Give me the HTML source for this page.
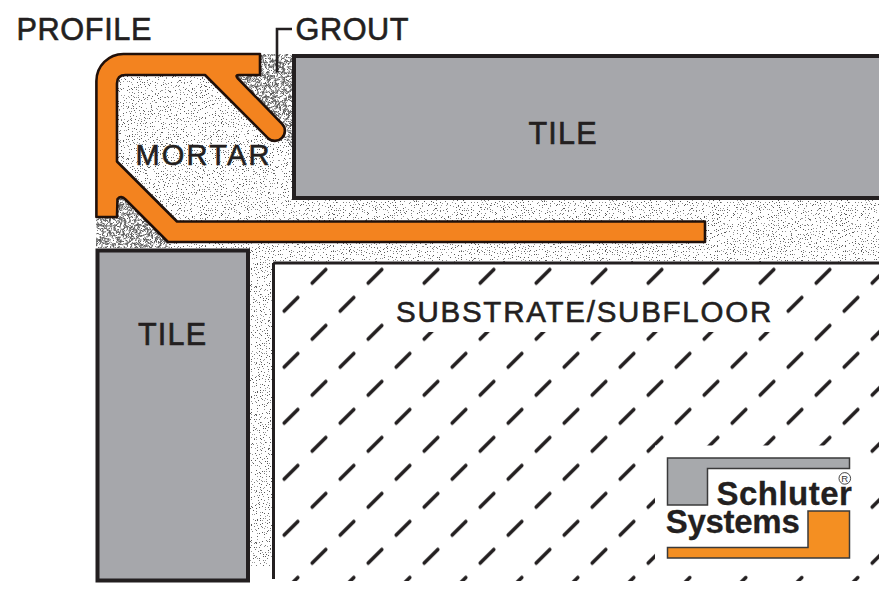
<!DOCTYPE html>
<html><head><meta charset="utf-8"><style>html,body{margin:0;padding:0;background:#fff;overflow:hidden}svg{display:block}</style></head>
<body><svg width="885" height="589" viewBox="0 0 885 589">
<defs><pattern id="dots" width="128" height="128" patternUnits="userSpaceOnUse"><path fill="#5a5a5a" d="M0 1h1v1h-1zM1 7h1v1h-1zM1 8h1v1h-1zM0 11h1v1h-1zM2 16h1v1h-1zM1 24h1v1h-1zM0 31h1v1h-1zM1 66h1v1h-1zM1 74h1v1h-1zM0 86h1v1h-1zM0 107h1v1h-1zM2 113h1v1h-1zM0 124h1v1h-1zM4 6h1v1h-1zM4 8h1v1h-1zM4 12h1v1h-1zM3 21h1v1h-1zM4 38h1v1h-1zM4 41h1v1h-1zM3 46h1v1h-1zM4 54h1v1h-1zM4 73h1v1h-1zM3 88h1v1h-1zM4 89h1v1h-1zM3 95h1v1h-1zM3 99h1v1h-1zM4 103h1v1h-1zM3 120h1v1h-1zM3 123h1v1h-1zM6 0h1v1h-1zM6 11h1v1h-1zM6 20h1v1h-1zM6 29h1v1h-1zM7 42h1v1h-1zM7 44h1v1h-1zM7 53h1v1h-1zM5 55h1v1h-1zM5 66h1v1h-1zM5 79h1v1h-1zM6 87h1v1h-1zM5 100h1v1h-1zM5 106h1v1h-1zM6 110h1v1h-1zM5 115h1v1h-1zM7 119h1v1h-1zM8 1h1v1h-1zM8 22h1v1h-1zM10 42h1v1h-1zM9 44h1v1h-1zM9 58h1v1h-1zM10 72h1v1h-1zM9 77h1v1h-1zM9 82h1v1h-1zM10 101h1v1h-1zM8 108h1v1h-1zM12 1h1v1h-1zM11 11h1v1h-1zM11 19h1v1h-1zM12 38h1v1h-1zM12 43h1v1h-1zM12 65h1v1h-1zM11 74h1v1h-1zM11 77h1v1h-1zM11 79h1v1h-1zM12 84h1v1h-1zM12 113h1v1h-1zM12 123h1v1h-1zM13 10h1v1h-1zM15 13h1v1h-1zM14 25h1v1h-1zM13 29h1v1h-1zM14 36h1v1h-1zM14 58h1v1h-1zM13 64h1v1h-1zM15 70h1v1h-1zM14 82h1v1h-1zM13 92h1v1h-1zM15 94h1v1h-1zM15 97h1v1h-1zM13 100h1v1h-1zM13 107h1v1h-1zM15 110h1v1h-1zM13 121h1v1h-1zM16 1h1v1h-1zM17 4h1v1h-1zM17 6h1v1h-1zM17 21h1v1h-1zM16 24h1v1h-1zM17 27h1v1h-1zM16 34h1v1h-1zM16 41h1v1h-1zM17 45h1v1h-1zM17 50h1v1h-1zM16 73h1v1h-1zM16 82h1v1h-1zM17 86h1v1h-1zM16 111h1v1h-1zM16 117h1v1h-1zM19 4h1v1h-1zM20 39h1v1h-1zM18 45h1v1h-1zM19 50h1v1h-1zM18 76h1v1h-1zM19 80h1v1h-1zM19 97h1v1h-1zM20 114h1v1h-1zM18 122h1v1h-1zM22 9h1v1h-1zM22 19h1v1h-1zM21 21h1v1h-1zM21 23h1v1h-1zM22 26h1v1h-1zM21 39h1v1h-1zM21 54h1v1h-1zM22 69h1v1h-1zM22 71h1v1h-1zM22 83h1v1h-1zM21 85h1v1h-1zM23 107h1v1h-1zM22 111h1v1h-1zM21 118h1v1h-1zM22 126h1v1h-1zM24 8h1v1h-1zM25 12h1v1h-1zM24 22h1v1h-1zM25 24h1v1h-1zM25 59h1v1h-1zM24 96h1v1h-1zM24 110h1v1h-1zM24 114h1v1h-1zM24 122h1v1h-1zM24 126h1v1h-1zM26 6h1v1h-1zM26 14h1v1h-1zM26 23h1v1h-1zM28 30h1v1h-1zM27 38h1v1h-1zM28 45h1v1h-1zM26 58h1v1h-1zM28 61h1v1h-1zM27 64h1v1h-1zM27 82h1v1h-1zM26 100h1v1h-1zM26 113h1v1h-1zM29 2h1v1h-1zM30 18h1v1h-1zM30 24h1v1h-1zM30 37h1v1h-1zM30 45h1v1h-1zM30 48h1v1h-1zM30 57h1v1h-1zM29 64h1v1h-1zM30 73h1v1h-1zM30 93h1v1h-1zM29 95h1v1h-1zM30 98h1v1h-1zM30 106h1v1h-1zM30 113h1v1h-1zM33 4h1v1h-1zM32 8h1v1h-1zM32 14h1v1h-1zM33 16h1v1h-1zM32 22h1v1h-1zM31 34h1v1h-1zM33 43h1v1h-1zM33 48h1v1h-1zM32 63h1v1h-1zM31 69h1v1h-1zM32 73h1v1h-1zM32 76h1v1h-1zM33 85h1v1h-1zM32 97h1v1h-1zM32 99h1v1h-1zM32 117h1v1h-1zM33 123h1v1h-1zM34 0h1v1h-1zM34 4h1v1h-1zM35 18h1v1h-1zM35 46h1v1h-1zM35 53h1v1h-1zM36 57h1v1h-1zM36 66h1v1h-1zM34 76h1v1h-1zM35 84h1v1h-1zM35 101h1v1h-1zM34 126h1v1h-1zM38 9h1v1h-1zM38 15h1v1h-1zM37 109h1v1h-1zM40 9h1v1h-1zM40 20h1v1h-1zM39 27h1v1h-1zM39 31h1v1h-1zM39 46h1v1h-1zM41 52h1v1h-1zM40 55h1v1h-1zM39 58h1v1h-1zM39 66h1v1h-1zM41 69h1v1h-1zM40 71h1v1h-1zM40 73h1v1h-1zM41 91h1v1h-1zM40 107h1v1h-1zM39 111h1v1h-1zM41 116h1v1h-1zM41 124h1v1h-1zM43 13h1v1h-1zM42 16h1v1h-1zM43 38h1v1h-1zM42 58h1v1h-1zM44 77h1v1h-1zM43 82h1v1h-1zM43 101h1v1h-1zM42 109h1v1h-1zM43 119h1v1h-1zM43 123h1v1h-1zM45 6h1v1h-1zM46 8h1v1h-1zM45 17h1v1h-1zM46 20h1v1h-1zM44 35h1v1h-1zM44 68h1v1h-1zM46 70h1v1h-1zM45 76h1v1h-1zM44 96h1v1h-1zM45 127h1v1h-1zM48 6h1v1h-1zM49 11h1v1h-1zM48 14h1v1h-1zM47 17h1v1h-1zM48 27h1v1h-1zM47 40h1v1h-1zM47 47h1v1h-1zM48 69h1v1h-1zM47 73h1v1h-1zM47 90h1v1h-1zM48 115h1v1h-1zM49 127h1v1h-1zM50 8h1v1h-1zM51 42h1v1h-1zM50 60h1v1h-1zM49 74h1v1h-1zM51 80h1v1h-1zM53 1h1v1h-1zM52 6h1v1h-1zM53 33h1v1h-1zM52 46h1v1h-1zM54 56h1v1h-1zM53 61h1v1h-1zM54 69h1v1h-1zM52 75h1v1h-1zM52 80h1v1h-1zM52 98h1v1h-1zM54 103h1v1h-1zM54 106h1v1h-1zM52 109h1v1h-1zM52 113h1v1h-1zM55 1h1v1h-1zM55 3h1v1h-1zM56 12h1v1h-1zM55 14h1v1h-1zM55 66h1v1h-1zM56 74h1v1h-1zM56 107h1v1h-1zM56 111h1v1h-1zM55 118h1v1h-1zM57 124h1v1h-1zM58 7h1v1h-1zM59 8h1v1h-1zM58 16h1v1h-1zM58 32h1v1h-1zM58 35h1v1h-1zM58 51h1v1h-1zM58 61h1v1h-1zM57 89h1v1h-1zM58 100h1v1h-1zM58 113h1v1h-1zM58 126h1v1h-1zM60 27h1v1h-1zM62 32h1v1h-1zM61 40h1v1h-1zM61 44h1v1h-1zM61 57h1v1h-1zM60 65h1v1h-1zM61 69h1v1h-1zM60 71h1v1h-1zM62 81h1v1h-1zM60 90h1v1h-1zM62 103h1v1h-1zM60 121h1v1h-1zM63 7h1v1h-1zM64 16h1v1h-1zM64 56h1v1h-1zM63 64h1v1h-1zM63 83h1v1h-1zM64 88h1v1h-1zM64 89h1v1h-1zM63 92h1v1h-1zM64 102h1v1h-1zM66 1h1v1h-1zM66 11h1v1h-1zM67 30h1v1h-1zM65 35h1v1h-1zM66 49h1v1h-1zM66 102h1v1h-1zM65 113h1v1h-1zM67 120h1v1h-1zM69 14h1v1h-1zM68 17h1v1h-1zM68 35h1v1h-1zM69 51h1v1h-1zM68 64h1v1h-1zM68 92h1v1h-1zM68 95h1v1h-1zM68 97h1v1h-1zM68 102h1v1h-1zM70 105h1v1h-1zM69 112h1v1h-1zM70 126h1v1h-1zM72 4h1v1h-1zM71 19h1v1h-1zM72 33h1v1h-1zM72 35h1v1h-1zM72 40h1v1h-1zM70 45h1v1h-1zM71 48h1v1h-1zM72 49h1v1h-1zM71 62h1v1h-1zM72 79h1v1h-1zM72 87h1v1h-1zM72 97h1v1h-1zM72 109h1v1h-1zM71 119h1v1h-1zM73 19h1v1h-1zM74 31h1v1h-1zM75 42h1v1h-1zM74 49h1v1h-1zM74 53h1v1h-1zM73 66h1v1h-1zM73 72h1v1h-1zM74 77h1v1h-1zM75 81h1v1h-1zM73 86h1v1h-1zM73 92h1v1h-1zM74 95h1v1h-1zM74 97h1v1h-1zM74 108h1v1h-1zM74 117h1v1h-1zM75 123h1v1h-1zM74 127h1v1h-1zM77 1h1v1h-1zM77 3h1v1h-1zM76 11h1v1h-1zM77 19h1v1h-1zM77 21h1v1h-1zM77 30h1v1h-1zM77 32h1v1h-1zM77 58h1v1h-1zM76 63h1v1h-1zM76 68h1v1h-1zM78 77h1v1h-1zM78 82h1v1h-1zM76 85h1v1h-1zM77 86h1v1h-1zM77 91h1v1h-1zM76 95h1v1h-1zM76 101h1v1h-1zM77 107h1v1h-1zM77 113h1v1h-1zM77 118h1v1h-1zM77 123h1v1h-1zM79 47h1v1h-1zM79 72h1v1h-1zM80 74h1v1h-1zM78 86h1v1h-1zM79 89h1v1h-1zM80 93h1v1h-1zM78 94h1v1h-1zM78 102h1v1h-1zM78 106h1v1h-1zM82 9h1v1h-1zM82 23h1v1h-1zM81 46h1v1h-1zM81 50h1v1h-1zM81 87h1v1h-1zM81 105h1v1h-1zM85 6h1v1h-1zM83 8h1v1h-1zM83 15h1v1h-1zM84 25h1v1h-1zM85 30h1v1h-1zM83 36h1v1h-1zM84 45h1v1h-1zM85 49h1v1h-1zM84 67h1v1h-1zM83 71h1v1h-1zM84 104h1v1h-1zM85 104h1v1h-1zM84 114h1v1h-1zM85 125h1v1h-1zM87 1h1v1h-1zM88 4h1v1h-1zM88 8h1v1h-1zM87 21h1v1h-1zM87 27h1v1h-1zM87 29h1v1h-1zM88 40h1v1h-1zM86 43h1v1h-1zM87 51h1v1h-1zM88 54h1v1h-1zM86 56h1v1h-1zM87 61h1v1h-1zM87 81h1v1h-1zM87 84h1v1h-1zM87 113h1v1h-1zM87 115h1v1h-1zM90 2h1v1h-1zM90 8h1v1h-1zM89 22h1v1h-1zM89 33h1v1h-1zM91 34h1v1h-1zM89 39h1v1h-1zM89 44h1v1h-1zM90 48h1v1h-1zM89 67h1v1h-1zM90 98h1v1h-1zM92 8h1v1h-1zM91 27h1v1h-1zM93 37h1v1h-1zM92 40h1v1h-1zM93 43h1v1h-1zM92 46h1v1h-1zM93 50h1v1h-1zM92 57h1v1h-1zM93 58h1v1h-1zM93 61h1v1h-1zM93 85h1v1h-1zM93 87h1v1h-1zM91 89h1v1h-1zM92 110h1v1h-1zM91 116h1v1h-1zM93 119h1v1h-1zM93 122h1v1h-1zM93 123h1v1h-1zM94 6h1v1h-1zM95 24h1v1h-1zM96 26h1v1h-1zM94 39h1v1h-1zM95 48h1v1h-1zM94 51h1v1h-1zM95 59h1v1h-1zM96 66h1v1h-1zM94 68h1v1h-1zM94 77h1v1h-1zM96 79h1v1h-1zM95 83h1v1h-1zM94 86h1v1h-1zM94 116h1v1h-1zM94 121h1v1h-1zM95 124h1v1h-1zM97 3h1v1h-1zM98 17h1v1h-1zM97 29h1v1h-1zM98 60h1v1h-1zM98 96h1v1h-1zM100 13h1v1h-1zM100 29h1v1h-1zM100 35h1v1h-1zM100 51h1v1h-1zM101 67h1v1h-1zM100 81h1v1h-1zM99 89h1v1h-1zM99 112h1v1h-1zM100 124h1v1h-1zM103 8h1v1h-1zM103 15h1v1h-1zM102 17h1v1h-1zM103 19h1v1h-1zM103 24h1v1h-1zM103 30h1v1h-1zM103 32h1v1h-1zM103 53h1v1h-1zM103 76h1v1h-1zM103 95h1v1h-1zM103 98h1v1h-1zM102 100h1v1h-1zM103 115h1v1h-1zM105 6h1v1h-1zM106 10h1v1h-1zM106 14h1v1h-1zM105 20h1v1h-1zM105 22h1v1h-1zM105 33h1v1h-1zM104 34h1v1h-1zM105 47h1v1h-1zM106 77h1v1h-1zM105 89h1v1h-1zM106 108h1v1h-1zM105 113h1v1h-1zM105 122h1v1h-1zM108 3h1v1h-1zM108 8h1v1h-1zM109 13h1v1h-1zM107 16h1v1h-1zM107 24h1v1h-1zM108 30h1v1h-1zM107 38h1v1h-1zM109 59h1v1h-1zM108 68h1v1h-1zM109 103h1v1h-1zM107 118h1v1h-1zM107 127h1v1h-1zM110 9h1v1h-1zM111 16h1v1h-1zM111 47h1v1h-1zM111 56h1v1h-1zM110 60h1v1h-1zM110 63h1v1h-1zM111 74h1v1h-1zM110 76h1v1h-1zM111 84h1v1h-1zM109 103h1v1h-1zM110 124h1v1h-1zM112 15h1v1h-1zM113 24h1v1h-1zM114 29h1v1h-1zM112 38h1v1h-1zM114 41h1v1h-1zM114 45h1v1h-1zM114 69h1v1h-1zM112 85h1v1h-1zM112 90h1v1h-1zM113 105h1v1h-1zM113 112h1v1h-1zM117 22h1v1h-1zM116 24h1v1h-1zM116 30h1v1h-1zM117 32h1v1h-1zM115 37h1v1h-1zM116 43h1v1h-1zM117 51h1v1h-1zM115 55h1v1h-1zM115 57h1v1h-1zM115 64h1v1h-1zM116 97h1v1h-1zM116 103h1v1h-1zM117 111h1v1h-1zM119 13h1v1h-1zM118 29h1v1h-1zM118 53h1v1h-1zM118 56h1v1h-1zM118 73h1v1h-1zM119 80h1v1h-1zM119 81h1v1h-1zM118 90h1v1h-1zM118 101h1v1h-1zM118 106h1v1h-1zM118 119h1v1h-1zM120 5h1v1h-1zM121 18h1v1h-1zM121 22h1v1h-1zM120 25h1v1h-1zM121 28h1v1h-1zM122 29h1v1h-1zM122 35h1v1h-1zM120 42h1v1h-1zM120 84h1v1h-1zM121 89h1v1h-1zM122 124h1v1h-1zM123 12h1v1h-1zM123 13h1v1h-1zM123 28h1v1h-1zM125 46h1v1h-1zM124 59h1v1h-1zM123 76h1v1h-1zM123 103h1v1h-1zM123 113h1v1h-1zM123 122h1v1h-1zM124 123h1v1h-1zM127 8h1v1h-1zM127 30h1v1h-1zM126 35h1v1h-1zM126 55h1v1h-1zM127 69h1v1h-1zM127 76h1v1h-1zM125 79h1v1h-1zM127 90h1v1h-1zM127 121h1v1h-1zM125 126h1v1h-1z"/><path fill="#7a7a7a" d="M0 18h1v1h-1zM0 30h1v1h-1zM0 35h1v1h-1zM2 39h1v1h-1zM0 44h1v1h-1zM0 53h1v1h-1zM1 63h1v1h-1zM0 71h1v1h-1zM1 81h1v1h-1zM1 89h1v1h-1zM0 106h1v1h-1zM2 116h1v1h-1zM2 119h1v1h-1zM0 127h1v1h-1zM4 3h1v1h-1zM3 30h1v1h-1zM4 33h1v1h-1zM3 35h1v1h-1zM3 48h1v1h-1zM4 51h1v1h-1zM3 70h1v1h-1zM3 77h1v1h-1zM4 92h1v1h-1zM3 108h1v1h-1zM3 111h1v1h-1zM3 118h1v1h-1zM7 6h1v1h-1zM5 14h1v1h-1zM6 15h1v1h-1zM7 48h1v1h-1zM6 64h1v1h-1zM6 75h1v1h-1zM6 93h1v1h-1zM6 97h1v1h-1zM5 108h1v1h-1zM6 122h1v1h-1zM9 33h1v1h-1zM9 40h1v1h-1zM8 50h1v1h-1zM8 63h1v1h-1zM9 67h1v1h-1zM8 74h1v1h-1zM10 85h1v1h-1zM8 87h1v1h-1zM8 89h1v1h-1zM8 116h1v1h-1zM9 125h1v1h-1zM11 8h1v1h-1zM12 18h1v1h-1zM10 21h1v1h-1zM10 28h1v1h-1zM11 29h1v1h-1zM11 46h1v1h-1zM12 64h1v1h-1zM12 69h1v1h-1zM12 81h1v1h-1zM10 92h1v1h-1zM10 97h1v1h-1zM11 99h1v1h-1zM11 106h1v1h-1zM11 110h1v1h-1zM10 120h1v1h-1zM13 7h1v1h-1zM14 16h1v1h-1zM13 27h1v1h-1zM14 33h1v1h-1zM14 37h1v1h-1zM13 53h1v1h-1zM13 70h1v1h-1zM13 87h1v1h-1zM14 103h1v1h-1zM15 113h1v1h-1zM13 125h1v1h-1zM17 12h1v1h-1zM17 16h1v1h-1zM16 29h1v1h-1zM17 42h1v1h-1zM17 52h1v1h-1zM16 84h1v1h-1zM16 99h1v1h-1zM17 114h1v1h-1zM17 118h1v1h-1zM16 120h1v1h-1zM17 123h1v1h-1zM17 126h1v1h-1zM20 11h1v1h-1zM19 38h1v1h-1zM19 47h1v1h-1zM20 84h1v1h-1zM20 95h1v1h-1zM20 111h1v1h-1zM22 14h1v1h-1zM22 38h1v1h-1zM22 51h1v1h-1zM21 55h1v1h-1zM21 59h1v1h-1zM21 95h1v1h-1zM23 98h1v1h-1zM22 103h1v1h-1zM23 113h1v1h-1zM22 123h1v1h-1zM24 6h1v1h-1zM24 17h1v1h-1zM25 36h1v1h-1zM25 56h1v1h-1zM24 66h1v1h-1zM25 75h1v1h-1zM24 91h1v1h-1zM23 105h1v1h-1zM27 4h1v1h-1zM28 17h1v1h-1zM27 19h1v1h-1zM28 35h1v1h-1zM28 48h1v1h-1zM26 55h1v1h-1zM27 67h1v1h-1zM28 68h1v1h-1zM27 77h1v1h-1zM27 85h1v1h-1zM28 89h1v1h-1zM27 93h1v1h-1zM27 94h1v1h-1zM27 118h1v1h-1zM29 9h1v1h-1zM29 11h1v1h-1zM30 35h1v1h-1zM29 40h1v1h-1zM30 53h1v1h-1zM30 77h1v1h-1zM30 79h1v1h-1zM28 102h1v1h-1zM30 121h1v1h-1zM31 12h1v1h-1zM32 18h1v1h-1zM32 26h1v1h-1zM31 36h1v1h-1zM31 54h1v1h-1zM31 60h1v1h-1zM32 67h1v1h-1zM32 91h1v1h-1zM32 106h1v1h-1zM32 110h1v1h-1zM32 114h1v1h-1zM34 16h1v1h-1zM34 25h1v1h-1zM35 43h1v1h-1zM34 51h1v1h-1zM35 59h1v1h-1zM36 80h1v1h-1zM36 107h1v1h-1zM34 110h1v1h-1zM36 115h1v1h-1zM35 122h1v1h-1zM35 124h1v1h-1zM36 0h1v1h-1zM37 17h1v1h-1zM36 18h1v1h-1zM38 28h1v1h-1zM37 29h1v1h-1zM37 37h1v1h-1zM37 40h1v1h-1zM38 47h1v1h-1zM38 50h1v1h-1zM37 54h1v1h-1zM36 61h1v1h-1zM38 75h1v1h-1zM37 87h1v1h-1zM37 97h1v1h-1zM37 102h1v1h-1zM38 106h1v1h-1zM37 111h1v1h-1zM40 4h1v1h-1zM40 10h1v1h-1zM41 16h1v1h-1zM40 29h1v1h-1zM40 35h1v1h-1zM39 49h1v1h-1zM40 83h1v1h-1zM40 90h1v1h-1zM39 96h1v1h-1zM40 97h1v1h-1zM40 101h1v1h-1zM39 105h1v1h-1zM43 11h1v1h-1zM43 29h1v1h-1zM43 32h1v1h-1zM42 91h1v1h-1zM42 110h1v1h-1zM43 113h1v1h-1zM42 116h1v1h-1zM46 2h1v1h-1zM44 14h1v1h-1zM45 29h1v1h-1zM46 32h1v1h-1zM45 48h1v1h-1zM45 51h1v1h-1zM44 63h1v1h-1zM46 118h1v1h-1zM46 123h1v1h-1zM48 4h1v1h-1zM49 25h1v1h-1zM49 30h1v1h-1zM49 57h1v1h-1zM48 61h1v1h-1zM47 76h1v1h-1zM49 82h1v1h-1zM48 85h1v1h-1zM48 93h1v1h-1zM48 103h1v1h-1zM47 107h1v1h-1zM48 114h1v1h-1zM48 120h1v1h-1zM51 25h1v1h-1zM51 28h1v1h-1zM50 32h1v1h-1zM50 38h1v1h-1zM51 50h1v1h-1zM51 85h1v1h-1zM50 86h1v1h-1zM50 118h1v1h-1zM52 10h1v1h-1zM53 25h1v1h-1zM53 29h1v1h-1zM52 35h1v1h-1zM53 37h1v1h-1zM53 64h1v1h-1zM53 77h1v1h-1zM53 82h1v1h-1zM52 94h1v1h-1zM52 119h1v1h-1zM53 120h1v1h-1zM55 9h1v1h-1zM55 36h1v1h-1zM57 43h1v1h-1zM56 48h1v1h-1zM55 52h1v1h-1zM55 56h1v1h-1zM55 64h1v1h-1zM56 69h1v1h-1zM55 71h1v1h-1zM56 82h1v1h-1zM56 83h1v1h-1zM55 87h1v1h-1zM56 94h1v1h-1zM55 103h1v1h-1zM56 121h1v1h-1zM58 4h1v1h-1zM58 14h1v1h-1zM59 21h1v1h-1zM57 25h1v1h-1zM59 40h1v1h-1zM58 70h1v1h-1zM59 82h1v1h-1zM59 94h1v1h-1zM59 117h1v1h-1zM60 6h1v1h-1zM60 16h1v1h-1zM61 35h1v1h-1zM61 51h1v1h-1zM61 73h1v1h-1zM60 110h1v1h-1zM60 113h1v1h-1zM63 12h1v1h-1zM64 22h1v1h-1zM64 46h1v1h-1zM64 53h1v1h-1zM63 75h1v1h-1zM64 95h1v1h-1zM64 105h1v1h-1zM63 111h1v1h-1zM63 113h1v1h-1zM66 8h1v1h-1zM66 22h1v1h-1zM67 25h1v1h-1zM67 27h1v1h-1zM67 37h1v1h-1zM67 43h1v1h-1zM66 53h1v1h-1zM65 57h1v1h-1zM66 58h1v1h-1zM66 64h1v1h-1zM67 66h1v1h-1zM66 77h1v1h-1zM67 93h1v1h-1zM67 108h1v1h-1zM66 110h1v1h-1zM66 116h1v1h-1zM67 124h1v1h-1zM69 18h1v1h-1zM69 22h1v1h-1zM68 27h1v1h-1zM68 30h1v1h-1zM68 44h1v1h-1zM70 57h1v1h-1zM68 116h1v1h-1zM71 1h1v1h-1zM72 23h1v1h-1zM70 56h1v1h-1zM71 61h1v1h-1zM71 75h1v1h-1zM70 84h1v1h-1zM72 90h1v1h-1zM71 105h1v1h-1zM74 2h1v1h-1zM74 6h1v1h-1zM74 11h1v1h-1zM74 17h1v1h-1zM74 21h1v1h-1zM75 24h1v1h-1zM73 30h1v1h-1zM74 78h1v1h-1zM73 84h1v1h-1zM74 102h1v1h-1zM73 118h1v1h-1zM77 7h1v1h-1zM76 8h1v1h-1zM78 17h1v1h-1zM76 25h1v1h-1zM77 39h1v1h-1zM76 43h1v1h-1zM76 45h1v1h-1zM76 61h1v1h-1zM77 70h1v1h-1zM76 79h1v1h-1zM77 90h1v1h-1zM76 103h1v1h-1zM77 117h1v1h-1zM77 127h1v1h-1zM80 18h1v1h-1zM79 33h1v1h-1zM80 35h1v1h-1zM79 53h1v1h-1zM79 59h1v1h-1zM80 82h1v1h-1zM79 98h1v1h-1zM80 101h1v1h-1zM79 123h1v1h-1zM81 32h1v1h-1zM83 54h1v1h-1zM82 82h1v1h-1zM83 85h1v1h-1zM82 100h1v1h-1zM81 115h1v1h-1zM81 126h1v1h-1zM85 4h1v1h-1zM84 21h1v1h-1zM85 42h1v1h-1zM84 77h1v1h-1zM84 82h1v1h-1zM85 88h1v1h-1zM85 117h1v1h-1zM85 117h1v1h-1zM87 25h1v1h-1zM86 65h1v1h-1zM86 71h1v1h-1zM87 74h1v1h-1zM87 87h1v1h-1zM88 98h1v1h-1zM87 100h1v1h-1zM87 111h1v1h-1zM87 121h1v1h-1zM86 124h1v1h-1zM87 126h1v1h-1zM89 6h1v1h-1zM90 11h1v1h-1zM90 26h1v1h-1zM91 45h1v1h-1zM89 55h1v1h-1zM89 71h1v1h-1zM89 77h1v1h-1zM89 82h1v1h-1zM89 92h1v1h-1zM89 103h1v1h-1zM90 108h1v1h-1zM90 115h1v1h-1zM90 121h1v1h-1zM90 125h1v1h-1zM91 2h1v1h-1zM92 22h1v1h-1zM92 64h1v1h-1zM92 66h1v1h-1zM93 68h1v1h-1zM92 71h1v1h-1zM93 74h1v1h-1zM92 96h1v1h-1zM92 98h1v1h-1zM94 17h1v1h-1zM95 22h1v1h-1zM94 38h1v1h-1zM95 42h1v1h-1zM95 45h1v1h-1zM94 111h1v1h-1zM95 113h1v1h-1zM95 118h1v1h-1zM94 126h1v1h-1zM98 6h1v1h-1zM98 9h1v1h-1zM97 23h1v1h-1zM97 37h1v1h-1zM97 39h1v1h-1zM97 66h1v1h-1zM97 79h1v1h-1zM97 102h1v1h-1zM97 105h1v1h-1zM98 119h1v1h-1zM98 123h1v1h-1zM100 22h1v1h-1zM100 26h1v1h-1zM101 32h1v1h-1zM100 37h1v1h-1zM101 42h1v1h-1zM99 68h1v1h-1zM100 72h1v1h-1zM101 79h1v1h-1zM101 85h1v1h-1zM100 87h1v1h-1zM100 97h1v1h-1zM101 100h1v1h-1zM100 106h1v1h-1zM100 108h1v1h-1zM103 40h1v1h-1zM103 64h1v1h-1zM103 67h1v1h-1zM103 80h1v1h-1zM102 102h1v1h-1zM103 105h1v1h-1zM106 3h1v1h-1zM105 17h1v1h-1zM105 36h1v1h-1zM105 41h1v1h-1zM105 42h1v1h-1zM104 51h1v1h-1zM105 52h1v1h-1zM106 56h1v1h-1zM105 58h1v1h-1zM106 62h1v1h-1zM104 72h1v1h-1zM106 81h1v1h-1zM106 83h1v1h-1zM105 93h1v1h-1zM105 110h1v1h-1zM106 116h1v1h-1zM105 124h1v1h-1zM105 126h1v1h-1zM108 12h1v1h-1zM108 18h1v1h-1zM108 40h1v1h-1zM109 54h1v1h-1zM107 64h1v1h-1zM108 65h1v1h-1zM108 71h1v1h-1zM107 75h1v1h-1zM108 94h1v1h-1zM109 100h1v1h-1zM108 113h1v1h-1zM110 1h1v1h-1zM111 6h1v1h-1zM111 21h1v1h-1zM111 28h1v1h-1zM110 30h1v1h-1zM110 41h1v1h-1zM111 50h1v1h-1zM110 69h1v1h-1zM111 71h1v1h-1zM111 86h1v1h-1zM110 91h1v1h-1zM110 92h1v1h-1zM110 98h1v1h-1zM111 100h1v1h-1zM110 119h1v1h-1zM114 0h1v1h-1zM113 16h1v1h-1zM113 20h1v1h-1zM114 36h1v1h-1zM114 51h1v1h-1zM112 56h1v1h-1zM114 58h1v1h-1zM112 64h1v1h-1zM113 70h1v1h-1zM113 75h1v1h-1zM113 78h1v1h-1zM113 94h1v1h-1zM113 97h1v1h-1zM114 102h1v1h-1zM113 117h1v1h-1zM113 125h1v1h-1zM115 14h1v1h-1zM117 18h1v1h-1zM116 36h1v1h-1zM115 41h1v1h-1zM116 48h1v1h-1zM115 73h1v1h-1zM116 77h1v1h-1zM117 79h1v1h-1zM115 92h1v1h-1zM116 94h1v1h-1zM116 105h1v1h-1zM116 109h1v1h-1zM115 119h1v1h-1zM116 123h1v1h-1zM116 125h1v1h-1zM119 3h1v1h-1zM119 5h1v1h-1zM118 11h1v1h-1zM117 38h1v1h-1zM118 40h1v1h-1zM118 51h1v1h-1zM118 67h1v1h-1zM118 69h1v1h-1zM118 70h1v1h-1zM118 88h1v1h-1zM119 91h1v1h-1zM118 103h1v1h-1zM119 109h1v1h-1zM118 115h1v1h-1zM120 2h1v1h-1zM120 14h1v1h-1zM120 40h1v1h-1zM121 53h1v1h-1zM121 56h1v1h-1zM120 71h1v1h-1zM120 74h1v1h-1zM120 82h1v1h-1zM120 102h1v1h-1zM120 116h1v1h-1zM121 120h1v1h-1zM121 126h1v1h-1zM125 7h1v1h-1zM124 19h1v1h-1zM123 25h1v1h-1zM123 33h1v1h-1zM123 60h1v1h-1zM123 63h1v1h-1zM123 88h1v1h-1zM124 100h1v1h-1zM123 105h1v1h-1zM126 11h1v1h-1zM126 14h1v1h-1zM126 31h1v1h-1zM127 37h1v1h-1zM126 43h1v1h-1zM127 45h1v1h-1zM125 60h1v1h-1zM126 98h1v1h-1zM126 112h1v1h-1z"/><path fill="#9a9a9a" d="M1 13h1v1h-1zM1 21h1v1h-1zM1 27h1v1h-1zM1 46h1v1h-1zM0 55h1v1h-1zM0 59h1v1h-1zM1 61h1v1h-1zM1 92h1v1h-1zM0 96h1v1h-1zM1 97h1v1h-1zM1 102h1v1h-1zM1 111h1v1h-1zM0 120h1v1h-1zM4 0h1v1h-1zM4 58h1v1h-1zM4 62h1v1h-1zM4 65h1v1h-1zM4 78h1v1h-1zM3 82h1v1h-1zM4 84h1v1h-1zM4 105h1v1h-1zM6 8h1v1h-1zM5 32h1v1h-1zM5 38h1v1h-1zM6 40h1v1h-1zM5 59h1v1h-1zM7 60h1v1h-1zM5 69h1v1h-1zM5 96h1v1h-1zM7 104h1v1h-1zM7 112h1v1h-1zM9 4h1v1h-1zM9 6h1v1h-1zM9 10h1v1h-1zM9 14h1v1h-1zM8 16h1v1h-1zM8 20h1v1h-1zM8 25h1v1h-1zM8 34h1v1h-1zM9 48h1v1h-1zM8 56h1v1h-1zM10 95h1v1h-1zM8 97h1v1h-1zM8 103h1v1h-1zM9 123h1v1h-1zM11 3h1v1h-1zM11 15h1v1h-1zM11 34h1v1h-1zM12 40h1v1h-1zM10 51h1v1h-1zM10 58h1v1h-1zM10 87h1v1h-1zM10 90h1v1h-1zM12 115h1v1h-1zM11 118h1v1h-1zM13 4h1v1h-1zM14 18h1v1h-1zM14 40h1v1h-1zM15 44h1v1h-1zM14 55h1v1h-1zM13 61h1v1h-1zM14 66h1v1h-1zM13 79h1v1h-1zM13 119h1v1h-1zM15 123h1v1h-1zM16 8h1v1h-1zM17 20h1v1h-1zM17 32h1v1h-1zM16 55h1v1h-1zM16 58h1v1h-1zM17 64h1v1h-1zM17 65h1v1h-1zM17 69h1v1h-1zM17 71h1v1h-1zM16 76h1v1h-1zM17 90h1v1h-1zM17 93h1v1h-1zM17 98h1v1h-1zM17 103h1v1h-1zM19 7h1v1h-1zM18 13h1v1h-1zM20 19h1v1h-1zM18 42h1v1h-1zM18 55h1v1h-1zM19 60h1v1h-1zM19 69h1v1h-1zM20 73h1v1h-1zM19 82h1v1h-1zM19 88h1v1h-1zM19 99h1v1h-1zM18 108h1v1h-1zM19 118h1v1h-1zM19 127h1v1h-1zM22 32h1v1h-1zM22 66h1v1h-1zM21 79h1v1h-1zM23 90h1v1h-1zM23 106h1v1h-1zM22 116h1v1h-1zM25 1h1v1h-1zM24 4h1v1h-1zM25 27h1v1h-1zM23 32h1v1h-1zM25 41h1v1h-1zM25 69h1v1h-1zM24 81h1v1h-1zM23 90h1v1h-1zM24 101h1v1h-1zM23 109h1v1h-1zM28 11h1v1h-1zM27 32h1v1h-1zM26 43h1v1h-1zM27 51h1v1h-1zM26 74h1v1h-1zM27 87h1v1h-1zM27 102h1v1h-1zM28 108h1v1h-1zM28 116h1v1h-1zM27 121h1v1h-1zM26 126h1v1h-1zM29 14h1v1h-1zM29 27h1v1h-1zM29 31h1v1h-1zM29 61h1v1h-1zM29 72h1v1h-1zM29 83h1v1h-1zM29 109h1v1h-1zM31 111h1v1h-1zM30 115h1v1h-1zM31 1h1v1h-1zM32 6h1v1h-1zM32 25h1v1h-1zM33 30h1v1h-1zM32 51h1v1h-1zM32 72h1v1h-1zM33 90h1v1h-1zM32 119h1v1h-1zM35 11h1v1h-1zM34 13h1v1h-1zM34 21h1v1h-1zM34 30h1v1h-1zM34 34h1v1h-1zM35 38h1v1h-1zM35 71h1v1h-1zM34 73h1v1h-1zM35 82h1v1h-1zM34 90h1v1h-1zM34 96h1v1h-1zM36 97h1v1h-1zM35 106h1v1h-1zM38 11h1v1h-1zM37 22h1v1h-1zM37 33h1v1h-1zM38 35h1v1h-1zM37 45h1v1h-1zM36 56h1v1h-1zM38 64h1v1h-1zM37 68h1v1h-1zM38 71h1v1h-1zM38 77h1v1h-1zM38 78h1v1h-1zM37 83h1v1h-1zM38 84h1v1h-1zM37 89h1v1h-1zM37 92h1v1h-1zM38 118h1v1h-1zM37 123h1v1h-1zM38 127h1v1h-1zM40 1h1v1h-1zM40 6h1v1h-1zM39 15h1v1h-1zM39 21h1v1h-1zM39 24h1v1h-1zM39 42h1v1h-1zM40 87h1v1h-1zM40 114h1v1h-1zM39 118h1v1h-1zM44 2h1v1h-1zM42 6h1v1h-1zM42 9h1v1h-1zM43 18h1v1h-1zM42 43h1v1h-1zM42 46h1v1h-1zM44 48h1v1h-1zM42 50h1v1h-1zM43 64h1v1h-1zM42 67h1v1h-1zM43 70h1v1h-1zM42 70h1v1h-1zM42 75h1v1h-1zM43 85h1v1h-1zM42 92h1v1h-1zM43 97h1v1h-1zM42 104h1v1h-1zM43 106h1v1h-1zM43 126h1v1h-1zM46 24h1v1h-1zM45 26h1v1h-1zM45 43h1v1h-1zM46 46h1v1h-1zM44 55h1v1h-1zM44 66h1v1h-1zM45 87h1v1h-1zM45 100h1v1h-1zM45 103h1v1h-1zM45 106h1v1h-1zM46 115h1v1h-1zM48 0h1v1h-1zM49 8h1v1h-1zM47 36h1v1h-1zM47 37h1v1h-1zM49 51h1v1h-1zM48 55h1v1h-1zM48 63h1v1h-1zM48 65h1v1h-1zM47 86h1v1h-1zM48 100h1v1h-1zM49 119h1v1h-1zM49 123h1v1h-1zM50 6h1v1h-1zM50 17h1v1h-1zM51 19h1v1h-1zM50 30h1v1h-1zM50 45h1v1h-1zM50 49h1v1h-1zM50 54h1v1h-1zM50 55h1v1h-1zM49 58h1v1h-1zM50 69h1v1h-1zM50 71h1v1h-1zM50 77h1v1h-1zM50 81h1v1h-1zM51 89h1v1h-1zM49 97h1v1h-1zM51 103h1v1h-1zM51 105h1v1h-1zM50 108h1v1h-1zM49 111h1v1h-1zM49 121h1v1h-1zM54 41h1v1h-1zM52 48h1v1h-1zM54 50h1v1h-1zM52 67h1v1h-1zM52 72h1v1h-1zM52 90h1v1h-1zM52 92h1v1h-1zM52 99h1v1h-1zM53 124h1v1h-1zM56 19h1v1h-1zM56 22h1v1h-1zM56 25h1v1h-1zM56 27h1v1h-1zM56 37h1v1h-1zM57 50h1v1h-1zM57 59h1v1h-1zM56 79h1v1h-1zM55 92h1v1h-1zM56 101h1v1h-1zM56 127h1v1h-1zM57 20h1v1h-1zM58 29h1v1h-1zM58 38h1v1h-1zM59 43h1v1h-1zM58 44h1v1h-1zM59 48h1v1h-1zM59 53h1v1h-1zM58 55h1v1h-1zM58 71h1v1h-1zM58 75h1v1h-1zM57 77h1v1h-1zM58 88h1v1h-1zM58 97h1v1h-1zM58 121h1v1h-1zM57 124h1v1h-1zM62 4h1v1h-1zM60 13h1v1h-1zM61 47h1v1h-1zM61 53h1v1h-1zM62 77h1v1h-1zM61 85h1v1h-1zM61 91h1v1h-1zM61 97h1v1h-1zM62 104h1v1h-1zM61 118h1v1h-1zM62 124h1v1h-1zM63 41h1v1h-1zM64 43h1v1h-1zM64 59h1v1h-1zM64 66h1v1h-1zM63 71h1v1h-1zM63 76h1v1h-1zM63 80h1v1h-1zM63 98h1v1h-1zM64 99h1v1h-1zM65 108h1v1h-1zM63 115h1v1h-1zM63 118h1v1h-1zM64 121h1v1h-1zM64 127h1v1h-1zM66 17h1v1h-1zM67 50h1v1h-1zM66 61h1v1h-1zM66 70h1v1h-1zM66 88h1v1h-1zM66 90h1v1h-1zM70 5h1v1h-1zM70 12h1v1h-1zM68 24h1v1h-1zM70 38h1v1h-1zM69 39h1v1h-1zM69 48h1v1h-1zM69 62h1v1h-1zM68 65h1v1h-1zM69 72h1v1h-1zM68 74h1v1h-1zM69 78h1v1h-1zM68 86h1v1h-1zM68 119h1v1h-1zM69 121h1v1h-1zM70 7h1v1h-1zM71 14h1v1h-1zM72 25h1v1h-1zM72 58h1v1h-1zM71 71h1v1h-1zM72 82h1v1h-1zM72 93h1v1h-1zM71 96h1v1h-1zM70 110h1v1h-1zM71 117h1v1h-1zM73 13h1v1h-1zM74 38h1v1h-1zM75 41h1v1h-1zM74 46h1v1h-1zM74 50h1v1h-1zM75 56h1v1h-1zM74 61h1v1h-1zM74 63h1v1h-1zM74 69h1v1h-1zM74 90h1v1h-1zM76 14h1v1h-1zM76 37h1v1h-1zM77 74h1v1h-1zM77 122h1v1h-1zM78 7h1v1h-1zM80 10h1v1h-1zM79 11h1v1h-1zM79 25h1v1h-1zM80 42h1v1h-1zM79 46h1v1h-1zM80 61h1v1h-1zM78 63h1v1h-1zM80 80h1v1h-1zM79 112h1v1h-1zM82 3h1v1h-1zM82 7h1v1h-1zM83 11h1v1h-1zM82 14h1v1h-1zM82 15h1v1h-1zM82 18h1v1h-1zM81 56h1v1h-1zM81 59h1v1h-1zM81 61h1v1h-1zM82 63h1v1h-1zM82 67h1v1h-1zM82 69h1v1h-1zM81 74h1v1h-1zM83 80h1v1h-1zM83 95h1v1h-1zM81 97h1v1h-1zM82 107h1v1h-1zM81 122h1v1h-1zM83 123h1v1h-1zM83 12h1v1h-1zM85 59h1v1h-1zM84 90h1v1h-1zM84 95h1v1h-1zM84 96h1v1h-1zM84 100h1v1h-1zM84 108h1v1h-1zM84 121h1v1h-1zM88 63h1v1h-1zM87 68h1v1h-1zM87 79h1v1h-1zM87 96h1v1h-1zM86 103h1v1h-1zM88 119h1v1h-1zM89 3h1v1h-1zM89 13h1v1h-1zM89 37h1v1h-1zM90 58h1v1h-1zM89 61h1v1h-1zM89 63h1v1h-1zM90 74h1v1h-1zM93 11h1v1h-1zM93 13h1v1h-1zM93 24h1v1h-1zM92 33h1v1h-1zM93 53h1v1h-1zM91 100h1v1h-1zM93 104h1v1h-1zM93 106h1v1h-1zM93 113h1v1h-1zM94 2h1v1h-1zM95 4h1v1h-1zM94 10h1v1h-1zM95 34h1v1h-1zM95 56h1v1h-1zM94 102h1v1h-1zM97 11h1v1h-1zM98 14h1v1h-1zM98 24h1v1h-1zM98 33h1v1h-1zM97 43h1v1h-1zM98 51h1v1h-1zM97 52h1v1h-1zM97 56h1v1h-1zM98 63h1v1h-1zM97 72h1v1h-1zM98 74h1v1h-1zM97 76h1v1h-1zM97 81h1v1h-1zM97 85h1v1h-1zM97 89h1v1h-1zM97 91h1v1h-1zM97 98h1v1h-1zM97 110h1v1h-1zM97 113h1v1h-1zM97 122h1v1h-1zM99 7h1v1h-1zM101 8h1v1h-1zM101 11h1v1h-1zM100 24h1v1h-1zM100 45h1v1h-1zM101 73h1v1h-1zM99 76h1v1h-1zM100 94h1v1h-1zM100 115h1v1h-1zM101 121h1v1h-1zM100 126h1v1h-1zM103 21h1v1h-1zM102 34h1v1h-1zM102 62h1v1h-1zM102 75h1v1h-1zM103 81h1v1h-1zM102 90h1v1h-1zM103 112h1v1h-1zM103 119h1v1h-1zM103 122h1v1h-1zM102 126h1v1h-1zM105 8h1v1h-1zM105 26h1v1h-1zM104 63h1v1h-1zM105 79h1v1h-1zM105 97h1v1h-1zM106 99h1v1h-1zM105 119h1v1h-1zM108 7h1v1h-1zM109 27h1v1h-1zM108 32h1v1h-1zM108 42h1v1h-1zM107 44h1v1h-1zM108 50h1v1h-1zM108 60h1v1h-1zM107 77h1v1h-1zM108 82h1v1h-1zM108 84h1v1h-1zM109 92h1v1h-1zM107 107h1v1h-1zM108 111h1v1h-1zM108 123h1v1h-1zM111 13h1v1h-1zM110 25h1v1h-1zM110 32h1v1h-1zM111 38h1v1h-1zM110 44h1v1h-1zM111 67h1v1h-1zM111 95h1v1h-1zM110 104h1v1h-1zM110 111h1v1h-1zM111 114h1v1h-1zM110 116h1v1h-1zM111 121h1v1h-1zM113 3h1v1h-1zM114 27h1v1h-1zM112 32h1v1h-1zM113 107h1v1h-1zM113 118h1v1h-1zM116 6h1v1h-1zM116 16h1v1h-1zM115 28h1v1h-1zM116 61h1v1h-1zM116 66h1v1h-1zM115 71h1v1h-1zM116 82h1v1h-1zM116 90h1v1h-1zM117 101h1v1h-1zM116 113h1v1h-1zM115 116h1v1h-1zM117 8h1v1h-1zM119 16h1v1h-1zM119 25h1v1h-1zM119 28h1v1h-1zM118 35h1v1h-1zM118 42h1v1h-1zM118 48h1v1h-1zM119 63h1v1h-1zM119 78h1v1h-1zM119 110h1v1h-1zM119 124h1v1h-1zM118 126h1v1h-1zM120 12h1v1h-1zM121 32h1v1h-1zM122 48h1v1h-1zM121 51h1v1h-1zM120 60h1v1h-1zM121 67h1v1h-1zM122 69h1v1h-1zM120 77h1v1h-1zM121 79h1v1h-1zM120 88h1v1h-1zM121 95h1v1h-1zM121 106h1v1h-1zM121 119h1v1h-1zM124 2h1v1h-1zM123 17h1v1h-1zM123 30h1v1h-1zM123 39h1v1h-1zM125 43h1v1h-1zM124 50h1v1h-1zM123 53h1v1h-1zM124 70h1v1h-1zM124 78h1v1h-1zM123 81h1v1h-1zM124 95h1v1h-1zM123 97h1v1h-1zM123 108h1v1h-1zM123 115h1v1h-1zM124 119h1v1h-1zM126 2h1v1h-1zM125 7h1v1h-1zM127 17h1v1h-1zM125 41h1v1h-1zM126 50h1v1h-1zM126 54h1v1h-1zM127 64h1v1h-1zM125 74h1v1h-1zM127 81h1v1h-1zM126 102h1v1h-1zM126 106h1v1h-1zM127 108h1v1h-1z"/></pattern><pattern id="grout" width="64" height="64" patternUnits="userSpaceOnUse"><path fill="none" stroke="#5a5a5a" stroke-width="1.0" stroke-linecap="round" d="M0.8 1.4L3.3 2.7L3.3 5.0M1.7 4.4L0.8 6.6L1.1 8.6M3.0 9.0L2.6 6.3L0.4 6.2M0.4 10.2L1.9 11.7L0.7 12.9M2.5 15.1L2.9 16.9L4.3 16.7M0.8 15.4L-1.1 15.1L-2.2 14.0M64.8 15.4L62.9 15.1L61.8 14.0M1.7 20.1L0.9 22.6L-0.7 23.8M65.7 20.1L64.9 22.6L63.3 23.8M2.2 22.8L0.3 23.2L0.5 24.7M1.4 26.3L2.5 28.8L0.9 30.4M2.6 29.9L0.8 30.0L-0.1 31.1M66.6 29.9L64.8 30.0L63.9 31.1M2.2 33.5L3.4 34.4L4.6 34.7M1.1 35.3L3.2 37.1L5.3 37.6M2.8 37.6L2.2 39.2L0.8 38.9M1.8 42.1L3.9 43.0L4.7 44.7M3.0 45.5L4.6 46.8L3.6 48.1M1.6 48.6L1.6 50.2L0.4 50.3M0.8 50.5L-0.7 52.3L-2.4 51.4M64.8 50.5L63.3 52.3L61.6 51.4M2.9 54.5L2.8 57.2L4.9 57.4M1.3 57.7L1.2 59.8L0.7 61.4M0.7 60.1L-0.2 58.7L0.7 57.7M64.7 60.1L63.8 58.7L64.7 57.7M0.2 63.1L-0.8 64.5L0.1 65.5M0.2 -0.9L-0.8 0.5L0.1 1.5M64.2 63.1L63.2 64.5L64.1 65.5M64.2 -0.9L63.2 0.5L64.1 1.5M6.1 2.4L3.5 3.1L2.8 1.1M5.9 4.7L5.5 6.9L3.7 6.7M5.3 8.1L6.4 6.4L7.6 5.2M5.6 9.7L6.6 8.6L7.5 7.7M4.8 12.6L6.7 11.6L6.8 9.9M4.3 17.0L2.9 17.7L3.2 18.9M5.2 18.7L5.1 21.4L3.1 22.2M5.7 21.9L8.4 22.0L10.3 22.7M4.2 24.4L2.5 25.2L1.0 25.4M6.0 28.1L8.3 29.2L9.7 27.8M3.7 31.8L5.7 31.6L6.9 30.6M4.5 34.0L2.4 35.5L1.6 37.4M5.5 37.1L7.4 38.6L9.2 39.5M5.8 39.9L5.8 37.4L4.9 35.6M3.4 44.5L3.6 42.3L3.5 40.6M5.1 47.6L3.6 48.4L2.4 49.2M4.7 51.5L7.1 51.4L8.6 50.4M3.7 53.7L3.6 51.9L4.4 50.6M6.1 56.1L8.1 55.2L9.8 55.4M5.7 58.5L4.0 61.0L5.7 62.7M4.0 62.4L3.9 60.0L5.8 59.5M8.1 0.0L9.5 0.7L10.7 1.0M6.2 4.7L5.0 3.3L5.5 2.0M7.4 9.0L5.8 10.9L4.4 12.3M6.9 11.5L8.8 11.6L10.1 10.8M8.8 13.7L10.7 14.2L12.0 15.0M8.6 15.6L8.9 13.5L9.4 11.9M7.4 19.6L10.3 19.5L10.9 21.7M8.3 23.5L9.3 24.7L8.9 25.8M8.1 26.3L7.4 28.1L5.9 27.8M7.7 27.5L6.6 29.2L7.8 30.3M9.1 33.2L9.7 31.8L9.8 30.7M6.4 35.7L7.4 33.2L9.5 32.7M6.5 36.6L8.8 38.1L8.6 40.3M7.7 40.3L8.7 39.0L8.9 37.7M6.1 45.7L3.8 47.0L1.9 46.1M7.9 48.7L8.3 45.9L10.6 46.0M6.3 51.0L6.6 53.0L7.6 54.3M9.1 52.0L7.6 52.7L7.0 51.4M7.6 57.0L5.0 56.7L3.0 57.5M7.4 60.2L6.5 57.5L4.7 56.1M8.7 63.2L6.8 62.3L5.5 61.2M9.4 0.3L8.7 1.9L9.9 2.5M11.3 5.3L10.0 4.1L9.8 2.6M11.7 8.0L12.0 10.3L12.9 12.0M10.0 9.6L11.6 7.8L13.3 8.8M9.7 13.0L8.1 12.9L7.0 13.6M10.8 16.7L12.8 15.4L14.7 15.2M10.9 20.7L9.9 21.8L9.0 21.0M11.6 21.7L13.0 22.9L13.5 24.3M9.5 24.4L8.0 24.5L7.2 25.4M10.3 28.1L12.2 28.1L13.2 27.0M10.1 31.7L8.9 33.3L10.1 34.3M11.7 35.8L10.2 35.8L9.4 36.8M11.9 38.0L12.6 40.6L10.8 41.8M9.5 41.1L8.0 40.5L6.6 40.8M11.0 44.7L9.3 43.0L7.6 42.2M9.4 45.8L10.8 43.4L13.0 44.0M9.4 51.1L10.3 52.9L11.9 53.1M11.8 54.3L12.8 52.5L14.4 53.1M9.9 56.6L9.1 55.0L8.0 54.0M9.4 60.3L10.1 61.9L11.4 62.5M11.1 62.9L8.3 62.5L7.1 60.6M12.8 1.6L13.7 3.3L15.2 3.2M12.4 4.1L14.3 2.5L13.4 0.7M12.9 7.9L11.3 7.6L10.8 8.7M13.9 11.0L16.2 12.3L18.3 11.6M14.0 13.8L12.4 16.3L11.9 18.5M13.5 16.9L15.1 14.4L17.4 14.0M13.8 20.5L11.9 18.2L13.6 16.6M14.5 22.0L12.5 21.1L11.0 21.8M14.6 25.1L14.0 22.9L13.2 21.3M14.3 29.6L17.3 29.4L18.8 31.3M13.0 32.5L10.1 32.6L7.8 33.1M13.3 33.6L11.0 34.0L9.7 35.4M12.5 38.0L14.1 38.8L15.5 39.2M13.3 41.1L11.2 40.8L10.3 42.1M12.2 44.4L14.1 44.0L15.3 43.1M13.2 48.0L10.5 48.1L10.6 50.2M12.6 49.4L11.2 50.9L10.5 52.5M15.1 53.1L12.5 51.8L11.1 49.9M14.0 57.4L13.2 58.7L12.1 58.2M13.8 59.7L16.2 60.7L18.3 60.8M14.2 61.8L15.9 60.8L16.5 59.3M18.0 0.7L17.7 2.9L15.9 2.7M15.6 3.7L16.0 2.1L16.1 0.9M17.6 8.3L18.1 6.7L19.4 6.6M16.3 11.6L13.5 12.1L11.3 12.7M16.0 12.6L14.4 12.7L13.9 13.8M17.9 17.0L19.0 15.7L19.9 14.6M16.7 18.6L16.4 21.5L14.8 23.1M16.8 23.2L18.7 20.9L20.6 19.7M15.4 27.0L16.3 28.6L17.8 28.4M16.8 29.2L14.7 29.7L14.4 31.5M17.4 32.1L16.4 34.7L14.3 34.2M18.0 36.5L19.9 37.4L21.5 37.8M16.0 38.8L17.4 37.9L18.6 37.1M18.2 42.3L16.6 42.8L15.4 43.4M16.8 45.1L17.6 46.8L16.2 47.5M15.3 47.6L17.4 49.1L19.4 49.8M18.1 49.4L19.4 48.2L18.5 47.0M15.5 52.0L13.2 53.9L12.3 56.1M17.4 55.0L15.1 54.7L14.4 56.4M17.0 59.3L15.7 61.7L13.8 62.7M15.6 61.3L17.4 61.9L18.5 62.9M21.2 3.0L22.3 1.7L23.7 1.8M20.6 4.5L23.0 4.4L23.6 2.6M18.9 6.5L17.1 4.9L17.6 3.1M18.3 9.2L20.2 8.8L21.1 7.6M20.9 12.5L21.7 9.8L22.7 7.8M20.1 15.3L18.2 13.8L18.2 11.8M19.9 18.6L20.3 21.1L22.3 21.2M18.6 22.1L19.3 19.9L19.0 18.0M21.2 26.2L21.4 28.5L19.7 29.4M19.4 28.8L16.8 27.4L15.3 25.4M18.8 32.3L17.9 34.2L16.3 35.0M18.3 35.1L17.4 37.3L15.5 37.5M19.7 38.5L19.3 40.3L18.8 41.8M19.9 40.3L20.1 38.1L19.5 36.4M19.1 45.2L21.4 43.5L21.8 41.2M18.5 47.6L21.3 48.1L22.9 49.6M19.3 50.1L18.6 48.5L17.6 47.6M20.7 53.9L19.3 53.0L18.0 53.5M19.1 55.0L17.6 53.1L18.7 51.7M20.0 60.7L17.7 61.1L16.6 62.6M19.7 63.8L18.2 63.9L17.2 64.5M19.7 -0.2L18.2 -0.1L17.2 0.5M21.9 1.9L19.7 1.8L19.5 0.0M23.7 3.3L26.2 3.8L27.9 4.8M23.3 7.6L25.4 8.1L25.9 9.8M23.2 9.3L25.2 11.3L26.6 13.1M21.8 14.3L24.3 13.1L26.6 13.1M23.8 15.5L21.1 16.1L19.5 17.6M21.8 20.9L21.3 19.5L20.1 19.6M23.0 24.2L21.0 22.3L19.0 23.5M23.1 24.9L22.2 26.4L21.7 27.7M21.5 29.4L19.7 27.2L20.2 24.9M21.6 33.1L18.8 32.4L16.5 31.8M21.6 35.7L23.0 38.3L23.8 40.5M24.1 38.1L22.9 40.3L21.1 41.1M22.7 40.5L20.5 41.7L20.1 43.7M21.8 44.1L20.9 42.8L19.7 42.5M24.3 46.5L24.6 44.6L23.1 44.0M22.8 51.4L23.1 49.9L24.0 49.0M23.2 53.3L22.1 51.3L20.2 51.3M23.5 55.2L22.4 57.8L21.2 59.7M22.9 60.1L20.8 60.2L19.2 60.0M21.4 62.0L24.3 62.8L24.3 65.2M21.4 -2.0L24.3 -1.2L24.3 1.2M26.4 0.5L27.6 -1.0L29.1 -0.9M26.4 64.5L27.6 63.0L29.1 63.1M26.4 4.9L26.3 3.0L27.6 2.2M26.0 8.4L27.0 6.8L27.5 5.4M25.5 9.4L27.3 7.6L28.7 6.1M26.0 14.9L27.9 15.7L28.7 17.1M26.0 16.8L25.9 18.6L25.1 19.8M25.4 21.1L27.8 19.4L28.4 17.1M25.9 21.7L24.9 22.9L24.1 23.9M27.3 26.7L26.0 28.1L24.7 27.4M24.5 30.0L25.5 28.7L26.6 29.4M26.4 31.7L24.2 32.8L22.4 33.5M27.0 36.3L26.3 37.6L25.1 37.8M26.4 38.6L27.8 39.3L27.6 40.6M25.5 41.1L27.3 40.8L28.6 41.1M24.6 44.4L24.4 42.6L25.4 41.6M27.3 48.2L28.1 45.4L30.0 44.0M26.0 51.3L26.9 49.0L28.4 47.8M24.9 52.8L23.7 55.3L21.5 55.8M25.3 57.9L26.8 58.5L28.0 58.2M24.6 60.8L23.3 62.4L21.7 62.0M26.0 62.9L24.0 63.7L23.2 62.1M28.3 1.6L26.6 1.8L26.2 3.1M29.0 5.5L27.5 6.1L26.8 5.1M27.8 8.8L30.2 9.5L31.5 8.0M28.2 10.4L28.3 8.3L27.9 6.6M28.7 13.8L28.1 16.7L29.8 18.3M27.8 16.9L26.3 19.0L27.8 20.4M29.5 19.4L31.2 18.5L32.5 17.6M28.4 23.0L27.9 25.4L28.1 27.4M29.6 25.3L27.3 25.9L25.6 25.1M29.4 28.7L30.8 29.6L32.0 28.8M28.0 31.0L26.9 29.3L28.0 28.1M28.1 34.3L28.8 35.8L28.6 37.2M29.2 37.3L30.1 35.0L30.4 33.0M29.3 41.6L27.8 42.2L26.8 43.2M30.3 43.8L29.3 42.6L29.5 41.3M30.1 46.9L28.5 48.5L28.5 50.3M28.1 49.2L27.2 47.1L28.8 46.2M30.4 54.5L33.0 53.5L32.3 51.4M27.8 57.8L29.5 56.1L31.3 55.3M28.8 59.2L30.2 61.0L32.0 61.4M27.8 63.6L25.3 62.3L23.1 62.8M32.2 0.8L33.1 -0.7L34.3 -1.5M32.2 64.8L33.1 63.3L34.3 62.5M32.2 4.0L34.1 5.1L35.6 6.1M33.0 6.7L33.7 8.5L32.9 9.8M31.2 11.1L32.8 11.4L33.6 12.4M32.0 12.5L29.1 13.0L27.1 14.2M32.2 16.5L30.6 16.5L30.2 15.3M32.2 19.3L31.9 21.1L30.4 21.0M33.0 22.5L31.2 21.1L29.4 21.7M30.6 26.6L31.8 28.6L33.4 27.7M30.5 27.9L29.2 25.9L30.8 24.8M32.5 32.1L35.4 32.3L37.8 32.4M33.1 33.7L34.2 31.7L33.6 30.1M31.7 36.8L30.1 35.9L29.5 34.6M31.0 41.7L29.1 40.0L30.3 38.3M31.4 44.7L29.1 46.5L27.0 45.6M32.8 47.5L32.6 50.4L30.3 50.4M33.4 49.8L34.5 47.5L36.5 47.5M32.9 53.2L30.8 54.8L28.7 55.2M32.1 57.5L33.6 57.8L34.8 57.9M30.8 60.5L33.2 62.0L35.3 61.2M30.9 63.2L30.0 61.3L29.7 59.7M35.2 2.9L32.9 2.8L31.1 2.9M34.8 5.2L36.7 6.8L35.7 8.6M35.8 7.8L34.8 9.1L35.6 10.1M35.2 11.8L36.4 10.5L37.8 10.4M36.0 13.7L37.1 12.3L37.3 10.9M35.1 17.5L33.2 18.1L32.2 16.9M34.7 19.6L35.1 21.8L34.2 23.3M34.6 23.4L33.1 23.4L32.9 22.2M34.4 26.0L36.2 25.6L36.0 24.1M34.1 27.9L35.5 26.1L34.2 24.8M34.4 32.0L35.2 33.8L34.1 34.8M34.9 34.2L33.5 33.3L32.5 32.4M35.5 36.8L33.6 36.3L32.9 34.9M35.4 42.4L34.0 41.3L32.7 41.7M35.7 45.1L37.6 46.0L39.3 45.4M34.9 48.4L32.5 47.4L31.8 45.4M34.4 50.6L32.8 52.2L31.4 53.3M35.6 52.3L36.5 50.8L36.4 49.5M36.1 57.9L34.2 60.0L35.7 61.8M36.4 58.5L39.0 59.1L40.4 57.5M35.8 61.0L37.3 62.4L38.7 61.6M38.0 1.1L37.8 -1.2L39.6 -1.5M38.0 65.1L37.8 62.8L39.6 62.5M39.1 3.6L41.6 2.2L43.8 1.5M38.2 6.6L37.4 8.3L38.1 9.5M38.4 10.1L38.7 7.8L40.4 7.0M36.8 14.8L34.4 14.7L33.0 16.0M38.7 16.5L38.3 14.1L36.4 13.7M37.5 20.6L39.9 20.8L41.8 21.3M38.7 22.3L36.6 22.7L35.1 21.6M36.8 25.9L36.7 28.3L37.9 29.8M37.2 28.1L38.8 26.9L40.2 27.7M38.8 31.3L37.4 30.8L37.6 29.6M38.5 33.9L36.3 33.6L34.9 32.5M37.5 39.3L36.3 38.2L36.6 37.0M39.3 40.5L38.6 37.8L40.5 36.6M36.8 45.2L36.8 47.9L35.6 49.7M38.0 48.5L39.0 45.6L41.3 46.2M38.3 51.0L37.3 49.2L36.5 47.7M38.1 52.5L37.9 55.2L35.9 56.1M38.7 57.0L36.3 56.8L34.8 55.7M36.6 59.3L38.4 58.9L39.8 58.5M36.8 61.7L37.5 60.3L38.7 60.2M42.1 2.6L41.9 5.5L42.8 7.7M41.0 5.9L38.6 5.2L37.4 6.9M39.6 6.9L41.8 8.6L44.0 8.3M42.5 11.2L43.5 13.6L45.1 14.8M41.2 12.4L42.6 10.1L44.1 8.6M41.7 16.3L43.1 17.7L43.1 19.3M41.3 18.7L41.5 20.9L43.2 20.8M39.8 22.7L41.6 24.8L43.8 24.0M41.9 26.8L41.0 28.9L39.3 28.2M41.5 28.6L43.4 28.3L43.8 29.8M40.6 31.8L39.6 34.0L37.6 33.9M41.7 34.1L44.3 33.9L46.4 33.8M42.2 36.9L40.0 35.4L39.9 33.2M41.7 39.8L39.8 40.1L38.3 39.8M40.8 44.1L38.5 43.5L38.4 41.6M40.5 46.6L41.1 48.1L40.3 49.1M42.4 49.1L40.6 51.3L38.4 50.7M42.6 54.8L42.1 56.3L42.6 57.5M41.2 54.9L41.1 57.1L40.1 58.6M40.1 58.3L39.3 59.7L40.1 60.7M39.9 63.4L41.1 62.3L42.3 62.6M45.2 2.0L44.4 4.6L46.3 5.7M42.8 6.0L43.3 8.8L42.0 10.6M42.8 6.4L41.8 5.0L41.6 3.7M44.7 9.8L42.9 10.1L42.2 8.9M44.6 14.3L43.4 13.2L44.0 12.0M45.0 16.8L43.2 15.6L42.8 13.8M44.3 19.1L42.5 18.9L42.4 20.4M44.3 24.0L43.9 22.2L43.7 20.8M44.4 26.1L42.3 26.7L40.6 26.1M45.4 29.0L45.9 26.5L44.2 25.5M43.5 31.4L42.1 33.2L42.1 35.0M45.7 35.8L43.9 37.6L42.2 36.5M43.2 38.5L45.1 38.0L46.1 39.3M45.1 40.6L46.8 42.7L48.5 44.0M43.7 44.1L43.3 41.3L45.5 40.4M45.0 46.3L44.0 47.4L44.2 48.5M43.7 49.3L42.0 49.6L40.7 49.1M43.9 52.6L43.1 50.7L41.6 51.3M45.2 57.2L46.6 55.8L46.7 54.3M44.8 58.4L47.2 57.8L49.2 57.7M42.8 61.8L40.2 63.2L40.3 65.6M42.8 -2.2L40.2 -0.8L40.3 1.6M47.5 0.2L50.1 -0.2L51.5 1.3M47.5 64.2L50.1 63.8L51.5 65.3M48.0 3.6L48.1 5.2L47.9 6.4M46.0 6.7L47.3 9.2L46.3 11.3M46.6 12.1L47.5 13.5L48.6 14.3M48.2 12.5L48.7 10.2L50.5 9.6M46.7 15.4L48.8 16.9L50.5 18.1M48.0 18.9L47.7 20.7L46.3 21.1M47.9 21.8L47.6 20.3L47.3 19.1M46.5 26.7L46.0 24.2L44.1 23.4M45.8 29.4L45.3 28.0L46.1 27.1M48.4 31.6L46.0 31.3L45.8 29.3M47.7 35.1L48.0 32.9L46.2 32.5M47.4 37.8L46.3 39.6L46.9 41.2M46.7 41.9L48.3 40.5L49.9 41.1M46.1 44.2L46.0 41.6L45.2 39.6M46.2 48.6L44.3 47.1L42.4 46.7M46.1 50.5L43.7 52.1L41.5 52.3M48.0 53.5L48.0 51.8L49.4 51.9M47.5 56.7L48.1 58.2L47.7 59.5M47.9 59.9L47.9 62.2L46.5 63.3M47.7 63.7L49.9 65.1L51.1 63.4M47.7 -0.3L49.9 1.1L51.1 -0.6M50.7 1.6L52.6 2.6L53.5 4.0M51.4 3.3L48.7 3.1L47.9 5.1M51.5 9.0L50.5 10.5L51.2 11.7M49.4 10.4L48.7 7.6L48.5 5.3M51.7 13.5L50.8 12.2L49.9 11.4M48.8 15.6L49.4 14.1L49.1 12.8M50.4 19.9L52.0 20.2L53.0 21.1M50.0 21.6L48.0 21.9L47.8 20.3M48.9 24.9L51.0 26.0L50.3 27.7M51.1 27.8L49.2 27.3L49.5 25.7M50.9 32.3L50.8 34.5L50.6 36.2M49.9 35.2L51.7 36.4L50.8 37.8M50.0 38.1L50.0 35.4L51.6 33.8M49.9 41.8L50.7 44.1L52.5 43.5M49.3 43.2L47.8 45.3L49.4 46.6M51.4 46.0L54.2 45.1L56.6 45.2M51.3 51.6L48.7 52.5L49.2 54.7M51.1 53.8L51.4 52.1L50.2 51.5M50.4 56.7L49.7 55.1L49.4 53.7M51.7 58.7L53.0 56.0L54.9 54.7M50.1 62.2L48.5 62.6L48.4 63.9M52.7 0.5L54.3 -0.7L55.7 0.2M52.7 64.5L54.3 63.3L55.7 64.2M53.5 5.8L55.6 4.2L57.0 2.7M52.6 7.8L51.5 10.4L53.4 11.4M53.7 10.2L51.7 11.3L50.8 9.7M54.8 13.3L57.7 12.5L60.0 12.1M53.5 15.8L54.1 13.7L55.6 12.8M54.6 20.2L53.8 18.0L52.0 17.9M53.2 21.5L54.5 24.2L56.2 25.8M52.2 25.7L54.5 26.6L56.2 25.7M52.5 29.4L53.8 28.7L55.0 28.9M53.6 32.0L52.2 32.7L51.6 33.7M53.4 34.5L55.4 34.5L56.2 35.9M54.3 39.0L52.0 39.1L51.1 37.5M52.2 40.3L54.4 40.5L56.2 40.4M54.7 45.5L52.9 46.8L53.4 48.5M54.1 47.3L55.5 49.7L57.6 48.8M52.4 50.2L54.1 50.2L55.1 49.2M54.2 52.8L55.6 52.2L55.9 51.0M52.8 57.4L54.8 58.9L54.2 60.9M54.8 60.4L56.9 61.1L58.4 60.1M52.2 61.7L52.0 59.3L50.2 58.8M55.7 0.2L58.1 -1.0L59.9 -2.1M55.7 64.2L58.1 63.0L59.9 61.9M57.8 6.0L58.3 7.8L59.7 8.3M56.8 7.9L54.1 7.6L52.0 7.2M55.8 11.2L57.3 10.7L58.5 10.2M55.3 14.5L52.8 15.6L50.6 15.4M57.8 17.0L55.3 15.3L55.3 13.0M55.9 18.6L57.3 17.8L58.1 18.8M57.7 23.3L60.0 22.6L61.7 23.5M56.7 25.1L59.0 26.3L60.9 27.0M55.2 29.1L55.1 31.0L53.6 31.4M56.7 32.8L57.6 30.8L58.1 29.1M56.2 34.6L56.7 31.8L55.7 29.8M57.0 37.2L59.5 37.4L60.8 39.0M55.9 42.7L55.5 40.7L56.4 39.4M57.4 43.1L59.3 42.0L59.8 40.3M56.0 47.3L54.1 47.0L53.6 48.5M56.8 50.9L56.1 49.0L57.3 47.8M54.9 52.2L57.2 52.5L59.1 52.8M55.6 56.5L57.1 56.5L57.2 57.7M57.6 58.1L56.3 56.2L55.5 54.6M57.4 62.9L59.8 62.0L60.9 63.6M58.3 2.5L57.0 5.1L54.8 5.6M60.8 5.3L59.1 6.8L57.3 6.4M58.1 7.7L55.7 6.7L53.7 6.8M59.8 11.4L57.9 13.1L56.2 12.0M59.0 13.8L56.3 14.1L54.8 15.7M58.8 16.4L57.8 15.0L58.9 14.2M59.4 20.5L58.1 21.3L57.4 22.3M59.6 21.6L62.0 21.3L63.9 20.8M58.0 25.1L56.7 27.2L57.6 29.0M59.4 28.3L57.1 27.3L55.2 26.3M60.2 32.4L62.3 33.6L64.1 34.5M-3.8 32.4L-1.7 33.6L0.1 34.5M60.2 36.4L58.6 38.6L59.1 40.8M59.9 36.6L60.9 34.7L61.4 33.0M59.4 40.8L59.7 43.3L59.2 45.2M58.1 43.5L59.8 42.7L60.5 41.3M59.7 46.9L62.5 45.9L62.6 43.5M58.6 49.3L56.8 49.9L55.3 49.6M60.6 52.0L62.2 52.3L63.5 51.7M58.3 56.2L56.6 58.1L55.0 56.9M60.9 59.2L59.8 57.9L59.4 56.6M60.6 63.6L61.7 65.0L60.9 66.2M60.6 -0.4L61.7 1.0L60.9 2.2M63.1 2.3L65.3 3.3L66.2 1.6M-0.9 2.3L1.3 3.3L2.2 1.6M63.2 5.5L62.5 6.8L61.4 7.3M64.0 8.0L62.7 9.5L61.1 9.2M63.9 10.3L64.4 13.2L65.4 15.4M-0.1 10.3L0.4 13.2L1.4 15.4M62.3 13.1L61.8 10.2L61.2 7.9M63.6 16.5L61.2 17.7L60.0 15.9M63.3 20.4L64.6 17.9L66.7 18.7M-0.7 20.4L0.6 17.9L2.7 18.7M62.6 22.5L64.9 22.6L66.5 21.9M-1.4 22.5L0.9 22.6L2.5 21.9M61.0 27.4L59.9 30.1L62.1 31.0M62.0 29.8L60.9 27.6L59.9 25.9M61.2 33.0L61.4 30.8L61.9 29.1M63.4 35.0L61.2 35.4L59.7 34.4M63.2 37.6L63.5 35.6L64.6 34.3M-0.8 37.6L-0.5 35.6L0.6 34.3M62.1 42.4L64.6 41.4L66.1 39.9M-1.9 42.4L0.6 41.4L2.1 39.9M62.0 44.0L60.8 43.0L59.9 42.1M63.8 45.9L65.6 44.4L66.8 45.9M-0.2 45.9L1.6 44.4L2.8 45.9M63.2 51.0L63.2 48.8L61.6 48.2M63.6 54.5L63.2 52.7L63.0 51.2M62.5 56.0L60.3 56.1L60.2 54.4M62.9 60.9L64.3 59.9L65.7 60.3M-1.1 60.9L0.3 59.9L1.7 60.3M62.1 62.8L59.7 61.8L57.7 62.3"/></pattern><pattern id="hatch" width="56" height="56" patternUnits="userSpaceOnUse" x="277" y="290.3"><path d="M7.2 20.8L20.8 7.2M35.2 48.8L48.8 35.2" stroke="#231f20" stroke-width="3.6" stroke-linecap="round"/></pattern></defs>
<rect width="885" height="589" fill="#fff"/>
<path fill="url(#dots)" d="M260 54H879V263H273V566H248V248H96V210H117V75H260Z"/>
<path fill="url(#grout)" d="M232 74H260V54H292V148L284 137Z"/>
<path fill="url(#grout)" d="M96 217H117V190L168 242L170 248H96Z"/>
<rect x="294" y="56" width="585" height="142" fill="#a6a7ab"/><path d="M879 56H294V198H879" fill="none" stroke="#231f20" stroke-width="4"/>
<rect x="97.5" y="250.5" width="150.5" height="330" fill="#a6a7ab" stroke="#231f20" stroke-width="4"/>
<rect x="273.5" y="263" width="605.5" height="318" fill="url(#hatch)"/>
<path d="M273.5 263H879M273.5 263V579" stroke="#231f20" stroke-width="3" fill="none"/>
<rect x="655" y="445.5" width="215" height="130" fill="#fff"/>
<rect x="392" y="292" width="384" height="40" fill="#fff"/>
<path d="M260 54 L260 75 L239 75 Q235 75 237.5 78 L282.07 123.93 A10 10 0 0 1 267.93 138.07 L205 75 L125.5 75 Q117 75 117 83.5 L117 161.5 L177 221.5 L705 221.5 L705 242 L168 242 L125.5 199.5 Q121 195 117.5 199 L117 217 L96.4 217 L96.4 81 A27 27 0 0 1 123.4 54 Z" fill="#f3831f" stroke="#20100a" stroke-width="2.6" stroke-linejoin="round"/>
<path d="M292 29H277V72.5" stroke="#231f20" stroke-width="2.6" fill="none"/>
<g font-family="'Liberation Sans', sans-serif" fill="#231f20" stroke="#231f20" stroke-width="0.6">
<text x="16.5" y="40.2" font-size="30.7" letter-spacing="0.6">PROFILE</text>
<text x="295.5" y="39.8" font-size="30.7" letter-spacing="0.55">GROUT</text>
<text x="528.5" y="144.1" font-size="30.6" letter-spacing="1.17">TILE</text>
<text x="138" y="345.1" font-size="30.6" letter-spacing="1.17">TILE</text>
<text x="135.5" y="165.3" font-size="29" letter-spacing="2.2">MORTAR</text>
<text x="396" y="322.3" font-size="29.5" letter-spacing="1.76">SUBSTRATE/SUBFLOOR</text>
</g>
<g stroke="#3a3a3a" stroke-width="1.5">
<path d="M667.5 458H849.5V468.5H707.5V505H667.5Z" fill="#a7a9ac"/>
<path d="M849.5 511V558H667.5V547.5H808V511Z" fill="#f48f22"/>
</g>
<g font-family="'Liberation Sans', sans-serif" font-weight="bold" fill="#231f20" stroke="#231f20" stroke-width="0.3">
<text x="716.6" y="505.4" font-size="33" letter-spacing="0.45">Schluter</text>
<text x="665.8" y="532.5" font-size="33" letter-spacing="-0.3">Systems</text>
</g>
<circle cx="844.8" cy="478.4" r="5.8" fill="none" stroke="#444" stroke-width="1"/>
<text x="844.8" y="482" font-family="'Liberation Sans', sans-serif" font-size="9.5" text-anchor="middle" fill="#333">R</text>
</svg></body></html>
